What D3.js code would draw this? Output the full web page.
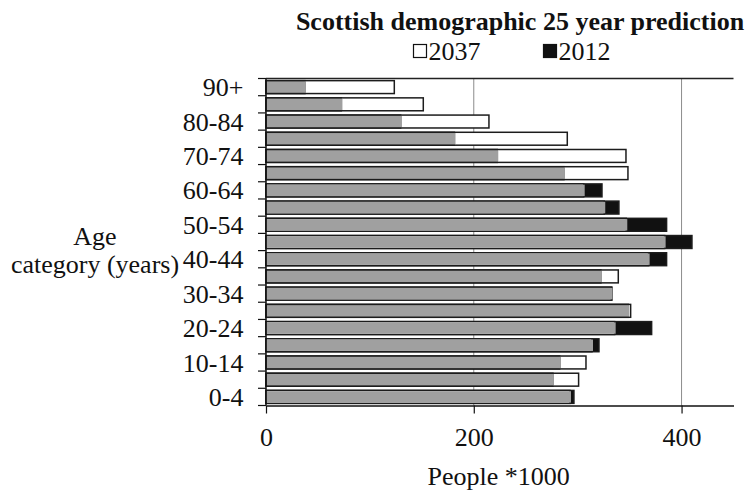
<!DOCTYPE html>
<html>
<head>
<meta charset="utf-8">
<script src="https://cdn.jsdelivr.net/npm/d3@7"></script>
<style>
  html, body { margin: 0; padding: 0; background: #fff; }
  svg { display: block; font-family: "Liberation Serif", "Times New Roman", serif; }
</style>
</head>
<body>
<svg id="chart" width="753" height="492"></svg>
<script>
// Age bands, youngest first (drawn bottom to top)
const ages = ["0-4", "5-9", "10-14", "15-19", "20-24", "25-29", "30-34", "35-39", "40-44",
  "45-49", "50-54", "55-59", "60-64", "65-69", "70-74", "75-79", "80-84", "85-89", "90+"];

// Population in thousands
const pop2012 = [296.4, 276.2, 282.7, 320.5, 371.2, 348.7, 333, 322.4, 385.6,
  410, 385.6, 339.7, 323.4, 286.8, 222.6, 181.3, 129.6, 72.5, 37.5];
const pop2037 = [292.6, 300.9, 308, 313.8, 335.6, 351, 332.5, 339.1, 368.3,
  383.7, 346.8, 325.6, 305.8, 348.4, 346.5, 290, 214.6, 151.4, 123.5];

const xTicks = [0, 200, 400];
const labelledAges = ["0-4", "10-14", "20-24", "30-34", "40-44", "50-54", "60-64", "70-74", "80-84", "90+"];

const svg = d3.select("#chart");
const plotLeft = 266, plotRight = 733.5, plotTop = 78.5, plotBottom = 405.5;

const x = d3.scaleLinear().domain([0, 450]).range([plotLeft, plotRight]);
const y = d3.scaleBand().domain(ages.slice().reverse()).range([plotTop, plotBottom])
  .paddingInner(0.25).paddingOuter(0.125);

const rows = ages.map((a, i) => ({ age: a, v2012: pop2012[i], v2037: pop2037[i] }));

// vertical gridlines
svg.append("g").selectAll("line").data(xTicks.filter(t => t > 0)).join("line")
  .attr("x1", d => x(d)).attr("x2", d => x(d))
  .attr("y1", plotTop).attr("y2", plotBottom)
  .attr("stroke", "#8c8c8c").attr("stroke-width", 1);

// bars: the longer series first so the shorter one sits on top
const series = [
  { key: "v2037", fill: "#ffffff" },
  { key: "v2012", fill: "#111111" }
];
const barG = svg.append("g");
rows.forEach(r => {
  const order = series.slice().sort((a, b) => r[b.key] - r[a.key]);
  order.forEach(s => {
    barG.append("rect")
      .attr("x", x(0))
      .attr("y", y(r.age))
      .attr("width", x(r[s.key]) - x(0))
      .attr("height", y.bandwidth())
      .attr("fill", s.fill)
      .attr("stroke", "#1c1c1c")
      .attr("stroke-width", 1.5);
  });
});

// grey overlap where both years share the same population
barG.selectAll("rect.overlap").data(rows).join("rect")
  .attr("class", "overlap")
  .attr("x", x(0) + 0.75)
  .attr("y", d => y(d.age) + 0.75)
  .attr("width", d => x(Math.min(d.v2012, d.v2037)) - x(0) + 0.25)
  .attr("height", y.bandwidth() - 1.5)
  .attr("fill", "#a0a0a0");

// top axis line
svg.append("line")
  .attr("x1", plotLeft).attr("x2", plotRight).attr("y1", plotTop).attr("y2", plotTop)
  .attr("stroke", "#222").attr("stroke-width", 1.5);

// x axis
const xAxis = svg.append("g")
  .attr("transform", `translate(0,${plotBottom})`)
  .call(d3.axisBottom(x).tickValues(xTicks).tickSize(8).tickPadding(14).tickSizeOuter(0));
xAxis.select(".domain").attr("stroke", "#111").attr("stroke-width", 1.5);
xAxis.selectAll(".tick line").attr("stroke", "#111").attr("stroke-width", 1.2);
xAxis.selectAll("text").attr("font-size", 26).attr("fill", "#111")
  .attr("font-family", "Liberation Serif, Times New Roman, serif");

// y axis: ticks at band boundaries, labels every other band
const yAxisG = svg.append("g");
yAxisG.append("line")
  .attr("x1", plotLeft).attr("x2", plotLeft).attr("y1", plotTop).attr("y2", plotBottom)
  .attr("stroke", "#111").attr("stroke-width", 1.5);
const bandH = (plotBottom - plotTop) / ages.length;
const boundaries = d3.range(ages.length + 1).map(i => plotTop + i * bandH);
yAxisG.selectAll("line.tick").data(boundaries).join("line")
  .attr("class", "tick")
  .attr("x1", plotLeft - 8).attr("x2", plotLeft)
  .attr("y1", d => d).attr("y2", d => d)
  .attr("stroke", "#111").attr("stroke-width", 1.2);
yAxisG.selectAll("text").data(labelledAges).join("text")
  .attr("x", 243.5)
  .attr("y", d => y(d) + y.bandwidth() / 2)
  .attr("dy", "0.35em")
  .attr("text-anchor", "end")
  .attr("font-size", 26)
  .attr("fill", "#111")
  .text(d => d);

// axis titles
svg.append("text").attr("x", x(224)).attr("y", 485).attr("text-anchor", "middle")
  .attr("font-size", 26).attr("fill", "#111").text("People *1000");
svg.append("text").attr("x", 95).attr("y", 245).attr("text-anchor", "middle")
  .attr("font-size", 26).attr("fill", "#111").text("Age");
svg.append("text").attr("x", 95).attr("y", 273).attr("text-anchor", "middle")
  .attr("font-size", 26).attr("fill", "#111").text("category (years)");

// title
svg.append("text").attr("x", 520).attr("y", 30).attr("text-anchor", "middle")
  .attr("font-size", 26).attr("font-weight", "bold").attr("fill", "#111")
  .text("Scottish demographic 25 year prediction");

// legend
const legendItems = [
  { label: "2037", fill: "#ffffff", x: 413.5 },
  { label: "2012", fill: "#111111", x: 543.5 }
];
const lg = svg.append("g").selectAll("g").data(legendItems).join("g");
lg.append("rect")
  .attr("x", d => d.x).attr("y", 44.5).attr("width", 13).attr("height", 13)
  .attr("fill", d => d.fill).attr("stroke", "#111").attr("stroke-width", 1.2);
lg.append("text")
  .attr("x", d => d.x + 15).attr("y", 60)
  .attr("font-size", 26).attr("fill", "#111")
  .text(d => d.label);
</script>
</body>
</html>
